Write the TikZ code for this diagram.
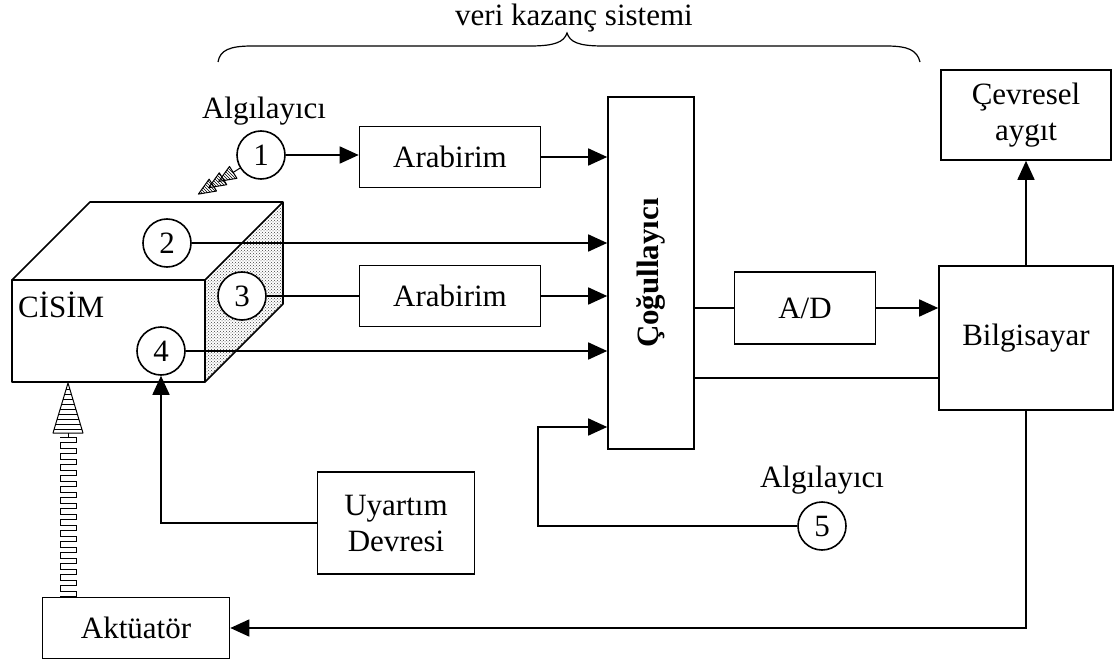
\documentclass[tikz,border=0pt]{standalone}
\usepackage{fontspec}
\setmainfont{Liberation Serif}
\usetikzlibrary{arrows.meta,patterns,calc}
\begin{document}
\begin{tikzpicture}[x=1pt,y=-1pt, line width=1.6pt,
 every node/.style={font=\fontsize{31}{36}\selectfont},
 box/.style={draw, inner sep=0pt, align=center},
 sensor/.style={draw, circle, minimum size=48pt, inner sep=0pt, fill=white},
 arr/.style={-{Triangle[length=19pt,width=17pt]}},
 thinl/.style={line width=1pt},
]
\useasboundingbox (0,0) rectangle (1119,666);

% title and brace
\node (title) at (574,18) {veri kazanç sistemi};
\draw[line width=1.2pt] (218,62) .. controls (220,50) and (230,46) .. (252,46) -- (530,46)
  .. controls (555,46) and (564,42) .. (567,33) .. controls (570,42) and (578,46) .. (603,46)
  -- (886,46) .. controls (908,46) and (917,50) .. (920,62);

% cube (CISIM)
\fill[pattern=crosshatch dots, pattern color=black!75] (205,280) -- (283,202) -- (283,304) -- (205,382) -- cycle;
\draw[line join=round] (12,280) rectangle (205,382);
\draw[line join=round] (12,280) -- (90,202) -- (283,202) -- (205,280);
\draw[line join=round] (283,202) -- (283,304) -- (205,382);
\node[anchor=west] (cisim) at (14,305) {CİSİM};

% sensors
\node[sensor] (c1) at (261,155) {1};
\node[sensor] (c2) at (167,243) {2};
\node[sensor] (c3) at (242,296) {3};
\node[sensor] (c4) at (161,351) {4};
\node[sensor] (c5) at (822,526) {5};
\node (alg1) at (264,111) {Algılayıcı};
\node (alg5) at (822,480) {Algılayıcı};

% bolt from sensor 1 toward the body
\begin{scope}[shift={(c1.212)}, rotate=212, thinl]
  \draw (0,0) -- (8,0);
  \foreach \s in {8,20,32} {
    \draw[pattern=north west lines, line join=round] (\s,-7) -- ({\s+17},0) -- (\s,7) -- cycle;
  }
\end{scope}

% boxes
\node[box, minimum width=181pt, minimum height=61pt] (arab1) at (450,157) {Arabirim};
\node[box, minimum width=181pt, minimum height=61pt] (arab2) at (450,296) {Arabirim};
\node[box, minimum width=86pt, minimum height=352pt] (cog) at (651,273) {};
\node[rotate=90, font=\fontsize{31}{36}\selectfont\bfseries] (cogl) at (cog.center) {Çoğullayıcı};
\node[box, minimum width=141pt, minimum height=72pt] (AD) at (805,308) {A/D};
\node[box, minimum width=174pt, minimum height=144pt] (bilg) at (1026,338) {Bilgisayar};
\node[box, minimum width=170pt, minimum height=90pt] (cevre) at (1026,115) {Çevresel\\aygıt};
\node[box, minimum width=157pt, minimum height=102pt] (uy) at (396,523) {Uyartım\\Devresi};
\node[box, minimum width=187pt, minimum height=61pt] (akt) at (136,628) {Aktüatör};

% connectors
\draw[arr] (c1.east) -- (c1.east -| arab1.west);
\draw[arr] (arab1.east) -- (arab1.east -| cog.west);
\draw[arr] (c2.east) -- (c2.east -| cog.west);
\draw (c3.east) -- (c3.east -| arab2.west);
\draw[arr] (arab2.east) -- (arab2.east -| cog.west);
\draw[arr] (c4.east) -- (c4.east -| cog.west);
\coordinate (lp) at (538,427);
\draw[arr] (c5.west) -| (lp) -- (lp -| cog.west);
\draw (AD.west -| cog.east) -- (AD.west);
\draw[arr] (AD.east) -- (AD.east -| bilg.west);
\coordinate (cb) at (800,378);
\draw (cb -| cog.east) -- (cb -| bilg.west);
\draw[arr] (bilg.north) -- (cevre.south);
\draw[arr] (bilg.south) |- (akt.east);
\draw[arr] (uy.west) -| (c4.south);

% actuator force arrow (ribbed)
\coordinate (ftop) at (68,383);
\coordinate (fbot) at (68,597);
\begin{scope}[thinl]
  \draw[line join=round] (ftop) -- ++(15,50) -- ++(-30,0) -- cycle;
  \foreach \y in {389,394,...,429} {
    \pgfmathsetmacro\hw{15*(\y-383)/50}
    \draw ({68-\hw},\y) -- ({68+\hw},\y);
  }
  \foreach \i in {0,...,29} {
    \pgfmathsetmacro\yy{437+5.5*\i}
    \draw (60,\yy) -- (76,\yy);
  }
  \foreach \i in {0,...,28} {
    \pgfmathsetmacro\yy{437+5.5*\i}
    \pgfmathsetmacro\xx{ifthenelse(mod(\i,2)==0,76,60)}
    \draw (\xx,\yy) -- (\xx,{\yy+5.5});
  }
  \draw (68,433) -- (68,437);
  \draw (68,596.5) -- (fbot);
\end{scope}
\end{tikzpicture}
\end{document}
